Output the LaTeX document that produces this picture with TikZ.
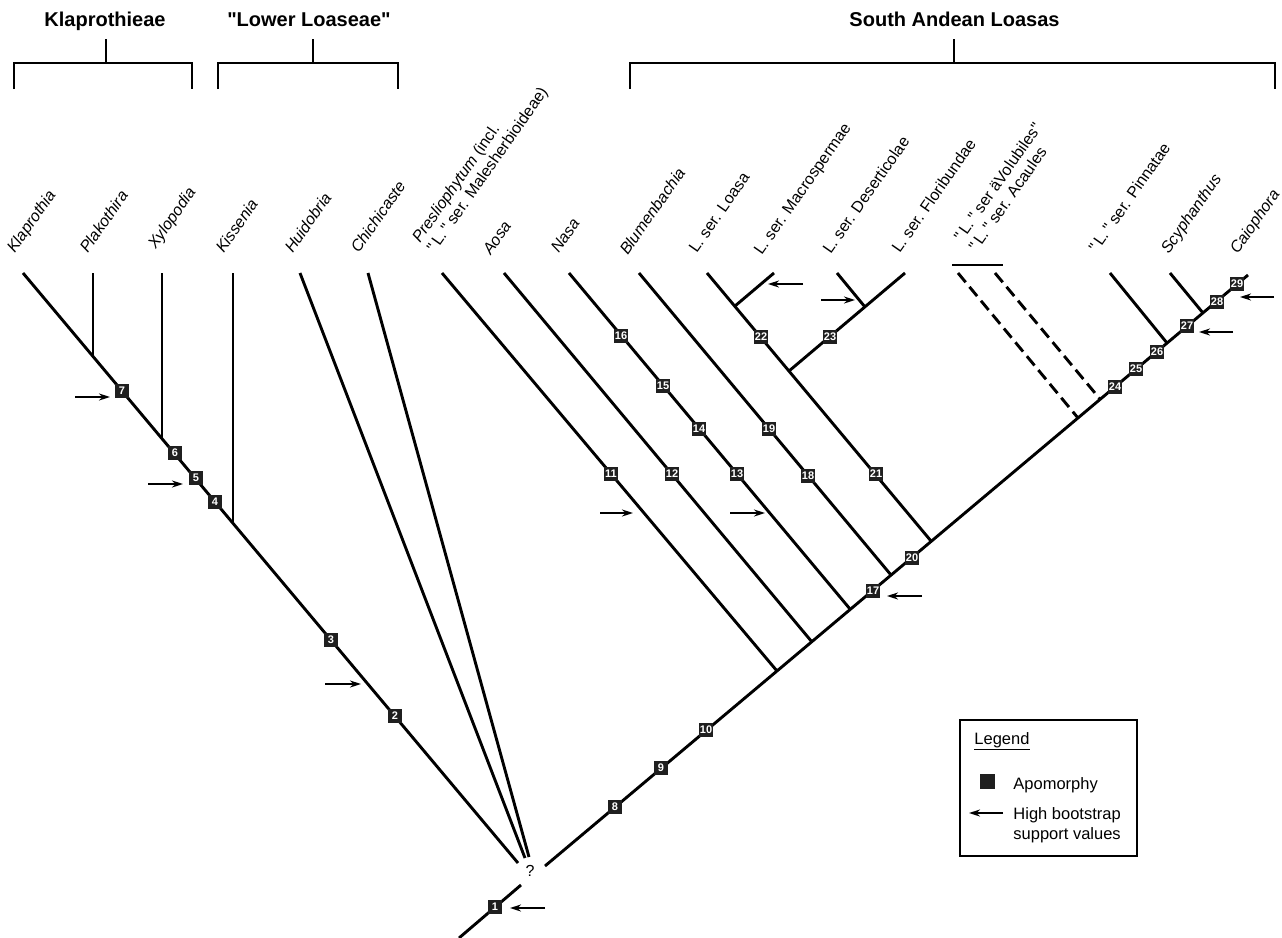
\documentclass[tikz,border=0pt]{standalone}
\usepackage{fontspec}
\setmainfont{Liberation Sans}
\usepackage{tikz}
\usetikzlibrary{arrows.meta}
\newcommand{\qq}{\textquotedbl}

\begin{document}
\begin{tikzpicture}[x=1pt, y=-1pt, line width=2.9pt,
    apo/.style={fill=black!88, text=white, inner sep=0.8pt, minimum size=14.5pt,
      font=\fontsize{11}{11}\selectfont\bfseries},
    taxon/.style={rotate=55, anchor=base west, inner sep=0pt,
      font=\fontsize{16}{18}\selectfont},
    clade/.style={anchor=base, inner sep=0pt, font=\fontsize{20}{22}\selectfont\bfseries},
    boot/.style={line width=1.8pt, -{Stealth[length=11pt, width=7pt]}},
    legtext/.style={anchor=base west, inner sep=0pt, font=\fontsize{16.5}{20}\selectfont}]
  \useasboundingbox (0,0) rectangle (1282,937);
  % clade brackets
  \node[clade] (c-klap) at (105,26.5) {Klaprothieae};
  \node[clade] (c-lower) at (309,26.5) {\qq Lower Loaseae\qq};
  \node[clade] (c-south) at (954.5,26.5) {South Andean Loasas};
  \draw (14,89) -- (14,63) -- (192,63) -- (192,89);
  \draw (106,39) -- (106,63);
  \draw (218,89) -- (218,63) -- (398,63) -- (398,89);
  \draw (313,39) -- (313,63);
  \draw (630,89) -- (630,63) -- (1275,63) -- (1275,89);
  \draw (954,39) -- (954,63);
  % taxon labels
  \node[taxon] (l-klap) at (14,255) {\itshape Klaprothia};
  \node[taxon] (l-plak) at (87,255) {\itshape Plakothira};
  \node[taxon] (l-xylo) at (155,251) {\itshape Xylopodia};
  \node[taxon] (l-kiss) at (223,255) {\itshape Kissenia};
  \node[taxon] (l-huid) at (292,255) {\itshape Huidobria};
  \node[taxon] (l-chic) at (358,255) {\itshape Chichicaste};
  \node[taxon] (l-pres) at (434,255) {\begin{tabular}[b]{@{}l@{}}{\itshape Presliophytum} (incl.\\\qq\,L.\,\qq{} ser. Malesherbioideae)\end{tabular}};
  \node[taxon] (l-aosa) at (490,257) {\itshape Aosa};
  \node[taxon] (l-nasa) at (558,255) {\itshape Nasa};
  \node[taxon] (l-blum) at (627,257) {\itshape Blumenbachia};
  \node[taxon] (l-loasa) at (696,255) {L. ser. Loasa};
  \node[taxon] (l-macro) at (761,257) {L. ser. Macrospermae};
  \node[taxon] (l-deser) at (830,256) {L. ser. Deserticolae};
  \node[taxon] (l-flori) at (899,255) {L. ser. Floribundae};
  \node[taxon] (l-volub) at (976,254) {\begin{tabular}[b]{@{}l@{}}\qq\,L.\,\qq{} ser äVolubiles\qq\\\qq\,L.\,\qq{} ser. Acaules\end{tabular}};
  \node[taxon] (l-pinn) at (1096,255) {\qq\,L.\,\qq{} ser. Pinnatae};
  \node[taxon] (l-scyp) at (1168,256) {\itshape Scyphanthus};
  \node[taxon] (l-caio) at (1237,256) {\itshape Caiophora};
  % tips
  \coordinate (klap) at (23,273);
  \coordinate (plak) at (93,273);
  \coordinate (xylo) at (162,273);
  \coordinate (kiss) at (233,273);
  \coordinate (huid) at (300,273);
  \coordinate (chic) at (368,273);
  \coordinate (pres) at (442,273);
  \coordinate (aosa) at (504,273);
  \coordinate (nasa) at (569,273);
  \coordinate (blum) at (639,273);
  \coordinate (loasa) at (707,273);
  \coordinate (macro) at (774,273);
  \coordinate (deser) at (837,273);
  \coordinate (flori) at (905,273);
  \coordinate (volA) at (958,273);
  \coordinate (volB) at (995,273);
  \coordinate (pinn) at (1110,273);
  \coordinate (scyp) at (1170,273);
  \coordinate (caio) at (1248,275);
  % junctions
  \coordinate (jplak) at (93,356);
  \coordinate (jxylo) at (162,438);
  \coordinate (jkiss) at (233,523);
  \coordinate (lend) at (518,863);
  \coordinate (hend) at (525,858);
  \coordinate (cend) at (529,857);
  \coordinate (root) at (459,938);
  \coordinate (rtop) at (521,885);
  \coordinate (rbase) at (545,866);
  \coordinate (jpres) at (777,671);
  \coordinate (jaosa) at (812,642);
  \coordinate (jnasa) at (850,609);
  \coordinate (jblum) at (891,575);
  \coordinate (jloasa) at (931,541);
  \coordinate (jmacro) at (735,306);
  \coordinate (jflori) at (789,371);
  \coordinate (jdeser) at (865,307);
  \coordinate (jvolA) at (1078,418);
  \coordinate (jvolB) at (1100,399);
  \coordinate (jpinn) at (1167,343);
  \coordinate (jscyp) at (1203,313);
  % branches
  \draw (klap) -- (lend);
  \draw (plak) -- (jplak);
  \draw (xylo) -- (jxylo);
  \draw (kiss) -- (jkiss);
  \draw (huid) -- (hend);
  \draw (chic) -- (cend);
  \draw (root) -- (rtop);
  \draw (rbase) -- (caio);
  \draw (pres) -- (jpres);
  \draw (aosa) -- (jaosa);
  \draw (nasa) -- (jnasa);
  \draw (blum) -- (jblum);
  \draw (loasa) -- (jloasa);
  \draw (jmacro) -- (macro);
  \draw (jflori) -- (flori);
  \draw (deser) -- (jdeser);
  \draw[dash pattern=on 12pt off 6pt] (volA) -- (jvolA);
  \draw[dash pattern=on 12pt off 6pt] (volB) -- (jvolB);
  \draw (952,265) -- (1003,265);
  \draw (pinn) -- (jpinn);
  \draw (scyp) -- (jscyp);
  \node[inner sep=0pt, anchor=base, font=\fontsize{16}{16}\selectfont] (unres) at (530,876) {?};
  % apomorphies
  \foreach \n/\x/\y in {1/495/907, 2/395/716, 3/331/640, 4/215/502, 5/196/478,
      6/175/453, 7/122/391, 8/615/807, 9/661/768, 10/706/730, 11/611/474,
      12/672/474, 13/737/474, 14/699/429, 15/663/386, 16/621/336, 17/873/591,
      18/808/476, 19/769/429, 20/912/558, 21/876/474, 22/761/337, 23/830/337,
      24/1115/387, 25/1136/369, 26/1157/352, 27/1187/326, 28/1217/302, 29/1237/284}
    \node[apo] (b\n) at (\x,\y) {\n};
  % bootstrap support
  \foreach \n/\a/\b/\y in {1/545/510/908, 2/325/361/684, 5/148/183/484, 7/75/110/397,
      11/600/633/513, 13/730/765/513, 17/922/887/596, 22/803/768/284,
      23/821/855/300, 27/1233/1199/332, 28/1274/1240/297} {
    \coordinate (bt\n) at (\a,\y);
    \coordinate (bh\n) at (\b,\y);
    \draw[boot] (bt\n) -- (bh\n);
  }
  % legend
  \draw[line width=1.2pt] (960,720) rectangle (1137,856);
  \node[legtext] (lg-title) at (973,744) {\underline{Legend}};
  \node[fill=black!88, minimum size=15pt, inner sep=0pt] (lg-sq) at (987.5,781.5) {};
  \node[legtext] (lg-apo) at (1012,789) {Apomorphy};
  \coordinate (lg-t) at (1003,813);
  \coordinate (lg-h) at (969,813);
  \draw[boot] (lg-t) -- (lg-h);
  \node[legtext] (lg-boot) at (1012,819) {\begin{tabular}[t]{@{}l@{}}High bootstrap\\support values\end{tabular}};
\end{tikzpicture}
\end{document}
